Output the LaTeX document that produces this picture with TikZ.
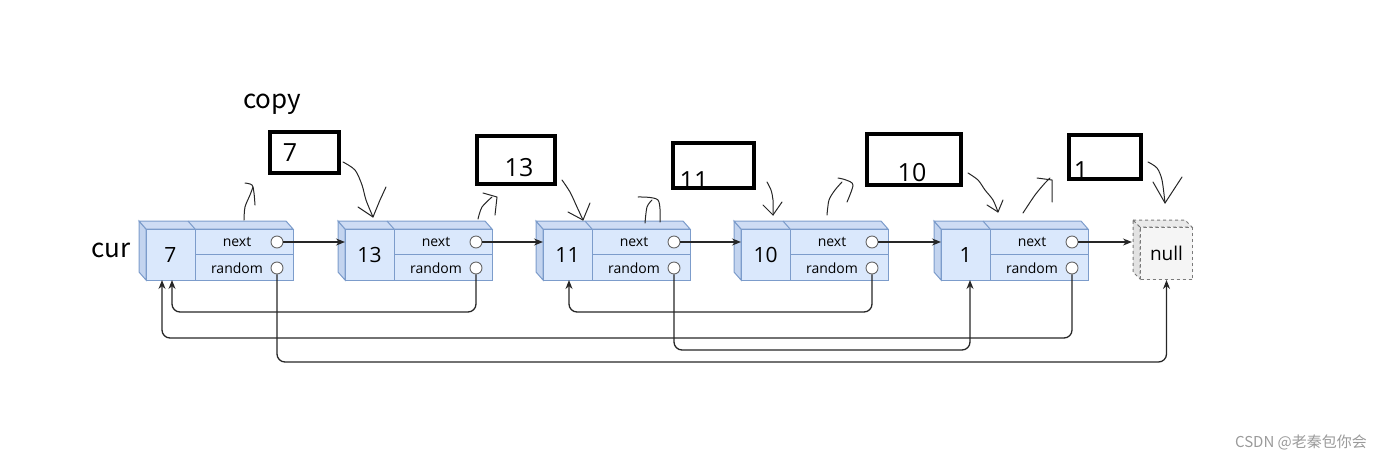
\documentclass[tikz,border=0pt]{standalone}
\usepackage{fontspec}
\setmainfont{Open Sans}
\newfontfamily\cjk{Noto Sans CJK SC}
\usetikzlibrary{arrows.meta, calc}
\definecolor{BoxFront}{HTML}{DAE8FC}
\definecolor{BoxSide}{HTML}{C3D4EF}
\definecolor{BoxTop}{HTML}{CEDCF4}
\definecolor{BoxLine}{HTML}{7C9CCB}
\definecolor{NullFill}{HTML}{F5F5F5}
\definecolor{NullSide}{HTML}{E2E2E2}
\definecolor{NullLine}{HTML}{7A7A7A}
\definecolor{MarkGray}{HTML}{9A9A9A}
\tikzset{
  cell/.style={draw=BoxLine, fill=BoxFront, line width=1pt, inner sep=0pt, outer sep=0pt},
  valcell/.style={cell, minimum width=49pt, minimum height=51pt, font=\fontsize{21}{25}\selectfont},
  ptrcell/.style={cell, minimum width=98pt, minimum height=25.5pt},
  ptrtext/.style={inner sep=0pt, font=\fontsize{14}{16}\selectfont},
  dot/.style={circle, draw=black!60, fill=white, line width=0.9pt, minimum size=12pt, inner sep=0pt},
  nullbox/.style={draw=NullLine, dashed, fill=NullFill, line width=1pt, minimum width=52pt, minimum height=52pt, inner sep=0pt, font=\fontsize{19}{22}\selectfont},
  copybox/.style={draw=black, line width=4pt, inner sep=0pt},
  copytext/.style={inner sep=0pt, font=\fontsize{25}{30}\selectfont},
  biglabel/.style={inner sep=0pt, font=\cjk\fontsize{26}{30}\selectfont},
  arrow/.style={-{Stealth[length=9pt,width=7pt]}, line width=1.3pt, draw=black!85, rounded corners=8pt},
  pen/.style={line width=1pt, draw=black!85, line cap=round, line join=round}
}

\begin{document}
\begin{tikzpicture}[x=1pt,y=-1pt]
\useasboundingbox (0,0) rectangle (1400,464);

\foreach \x/\v/\i in {146/7/1, 345/13/2, 543/11/3, 741/10/4, 941/1/5}
{
  \filldraw[fill=BoxSide, draw=BoxLine, line width=1pt] (\x-7,221) -- (\x,229) -- (\x,280) -- (\x-7,272) -- cycle;
  \filldraw[fill=BoxTop, draw=BoxLine, line width=1pt] (\x-7,221) -- (\x+140,221) -- (\x+147,229) -- (\x,229) -- cycle;
  \draw[BoxLine, line width=1pt] (\x+42,221) -- (\x+49,229);
  \node[valcell, anchor=north west] (val\i) at (\x,229) {\v};
  \node[ptrcell, anchor=north west] (nc\i) at (\x+49,229) {};
  \node[ptrcell, anchor=north west] (rc\i) at (\x+49,254.5) {};
  \node[ptrtext] (nt\i) at (\x+91,242) {next};
  \node[ptrtext] (rt\i) at (\x+91,268) {random};
  \node[dot] (nx\i) at (\x+131,242) {};
  \node[dot] (rd\i) at (\x+131,268) {};
}

\filldraw[fill=NullSide, draw=NullLine, dashed, line width=1pt] (1133,220) -- (1140,227) -- (1140,279) -- (1133,272) -- cycle;
\filldraw[fill=NullSide!60!NullFill, draw=NullLine, dashed, line width=1pt] (1133,220) -- (1185,220) -- (1192,227) -- (1140,227) -- cycle;
\node[nullbox, anchor=north west] (null) at (1140,227) {null};

\foreach \i/\j in {1/2, 2/3, 3/4, 4/5}
  \draw[arrow] (nx\i.east) -- (nx\i.east -| val\j.west);
\draw[arrow, shorten >=8pt] (nx5.east) -- (nx5.east -| null.west);

\draw[arrow] (rd1.south) -- (rd1 |- 0,362) -| (null.south);
\draw[arrow] (rd2.south) -- (rd2 |- 0,312) -| ([xshift=1.5pt]val1.south);
\draw[arrow] (rd5.south) -- (rd5 |- 0,338) -| ([xshift=-8.5pt]val1.south);
\draw[arrow] (rd3.south) -- (rd3 |- 0,350) -| ([xshift=4.5pt]val5.south);
\draw[arrow] (rd4.south) -- (rd4 |- 0,312) -| ([xshift=1.5pt]val3.south);

\node[biglabel] (copy) at (272,104) {copy};
\node[biglabel] (cur) at (111,250) {cur};

\node[copytext] (ct1) at (290,153) {7};
\node[copytext] (ct2) at (519,168) {13};
\node[copytext] (ct3) at (694,181) {11};
\node[copytext] (ct4) at (912,173) {10};
\node[copytext] (ct5) at (1081,171) {1};
\node[copybox, minimum width=69pt, minimum height=41pt] (cp1) at (304.5,152.5) {};
\node[copybox, minimum width=78pt, minimum height=48pt] (cp2) at (516,160) {};
\node[copybox, minimum width=81pt, minimum height=45pt] (cp3) at (713.5,165.5) {};
\node[copybox, minimum width=94pt, minimum height=51pt] (cp4) at (914,159.5) {};
\node[copybox, minimum width=72pt, minimum height=44pt] (cp5) at (1105,157) {};

\draw[pen] plot[smooth] coordinates {(244,220) (245,207) (250,195) (253,187)};
\draw[pen] plot[smooth] coordinates {(245,183) (252,185) (254,193) (255,205)};
\draw[pen] plot[smooth] coordinates {(343,162) (355,170) (362,185) (366,200) (373,217)};
\draw[pen] (358,207) -- (373,217) -- (380,200) -- (386,187);
\draw[pen] plot[smooth] coordinates {(478,219) (482,207) (492,197)};
\draw[pen] (483,193) -- (497,197) -- (495,215);
\draw[pen] plot[smooth] coordinates {(562,180) (570,192) (577,207) (583,220)};
\draw[pen] (568,212) -- (583,220) -- (590,203);
\draw[pen] plot[smooth] coordinates {(645,223) (647,207) (652,200)};
\draw[pen] plot[smooth] coordinates {(638,197) (658,200) (660,222)};
\draw[pen] plot[smooth] coordinates {(767,182) (771,190) (773,200) (773,215)};
\draw[pen] (763,205) -- (773,215) -- (782,202);
\draw[pen] plot[smooth] coordinates {(827,215) (829,200) (835,190) (842,182)};
\draw[pen] plot[smooth] coordinates {(838,178) (846,180) (853,185) (847,202)};
\draw[pen] plot[smooth] coordinates {(968,173) (978,180) (985,190) (993,200) (998,212)};
\draw[pen] (987,205) -- (998,212) -- (1003,200);
\draw[pen] plot[smooth] coordinates {(1023,213) (1035,195) (1045,183) (1050,178)};
\draw[pen] (1037,178) -- (1052,180) -- (1052,202);
\draw[pen] plot[smooth] coordinates {(1148,162) (1157,168) (1162,180) (1165,203)};
\draw[pen] (1153,182) -- (1165,203) -- (1182,177);

\node[font=\cjk\fontsize{15}{18}\selectfont, text=MarkGray, inner sep=0pt] (mark) at (1301,442) {CSDN @老秦包你会};
\end{tikzpicture}
\end{document}
